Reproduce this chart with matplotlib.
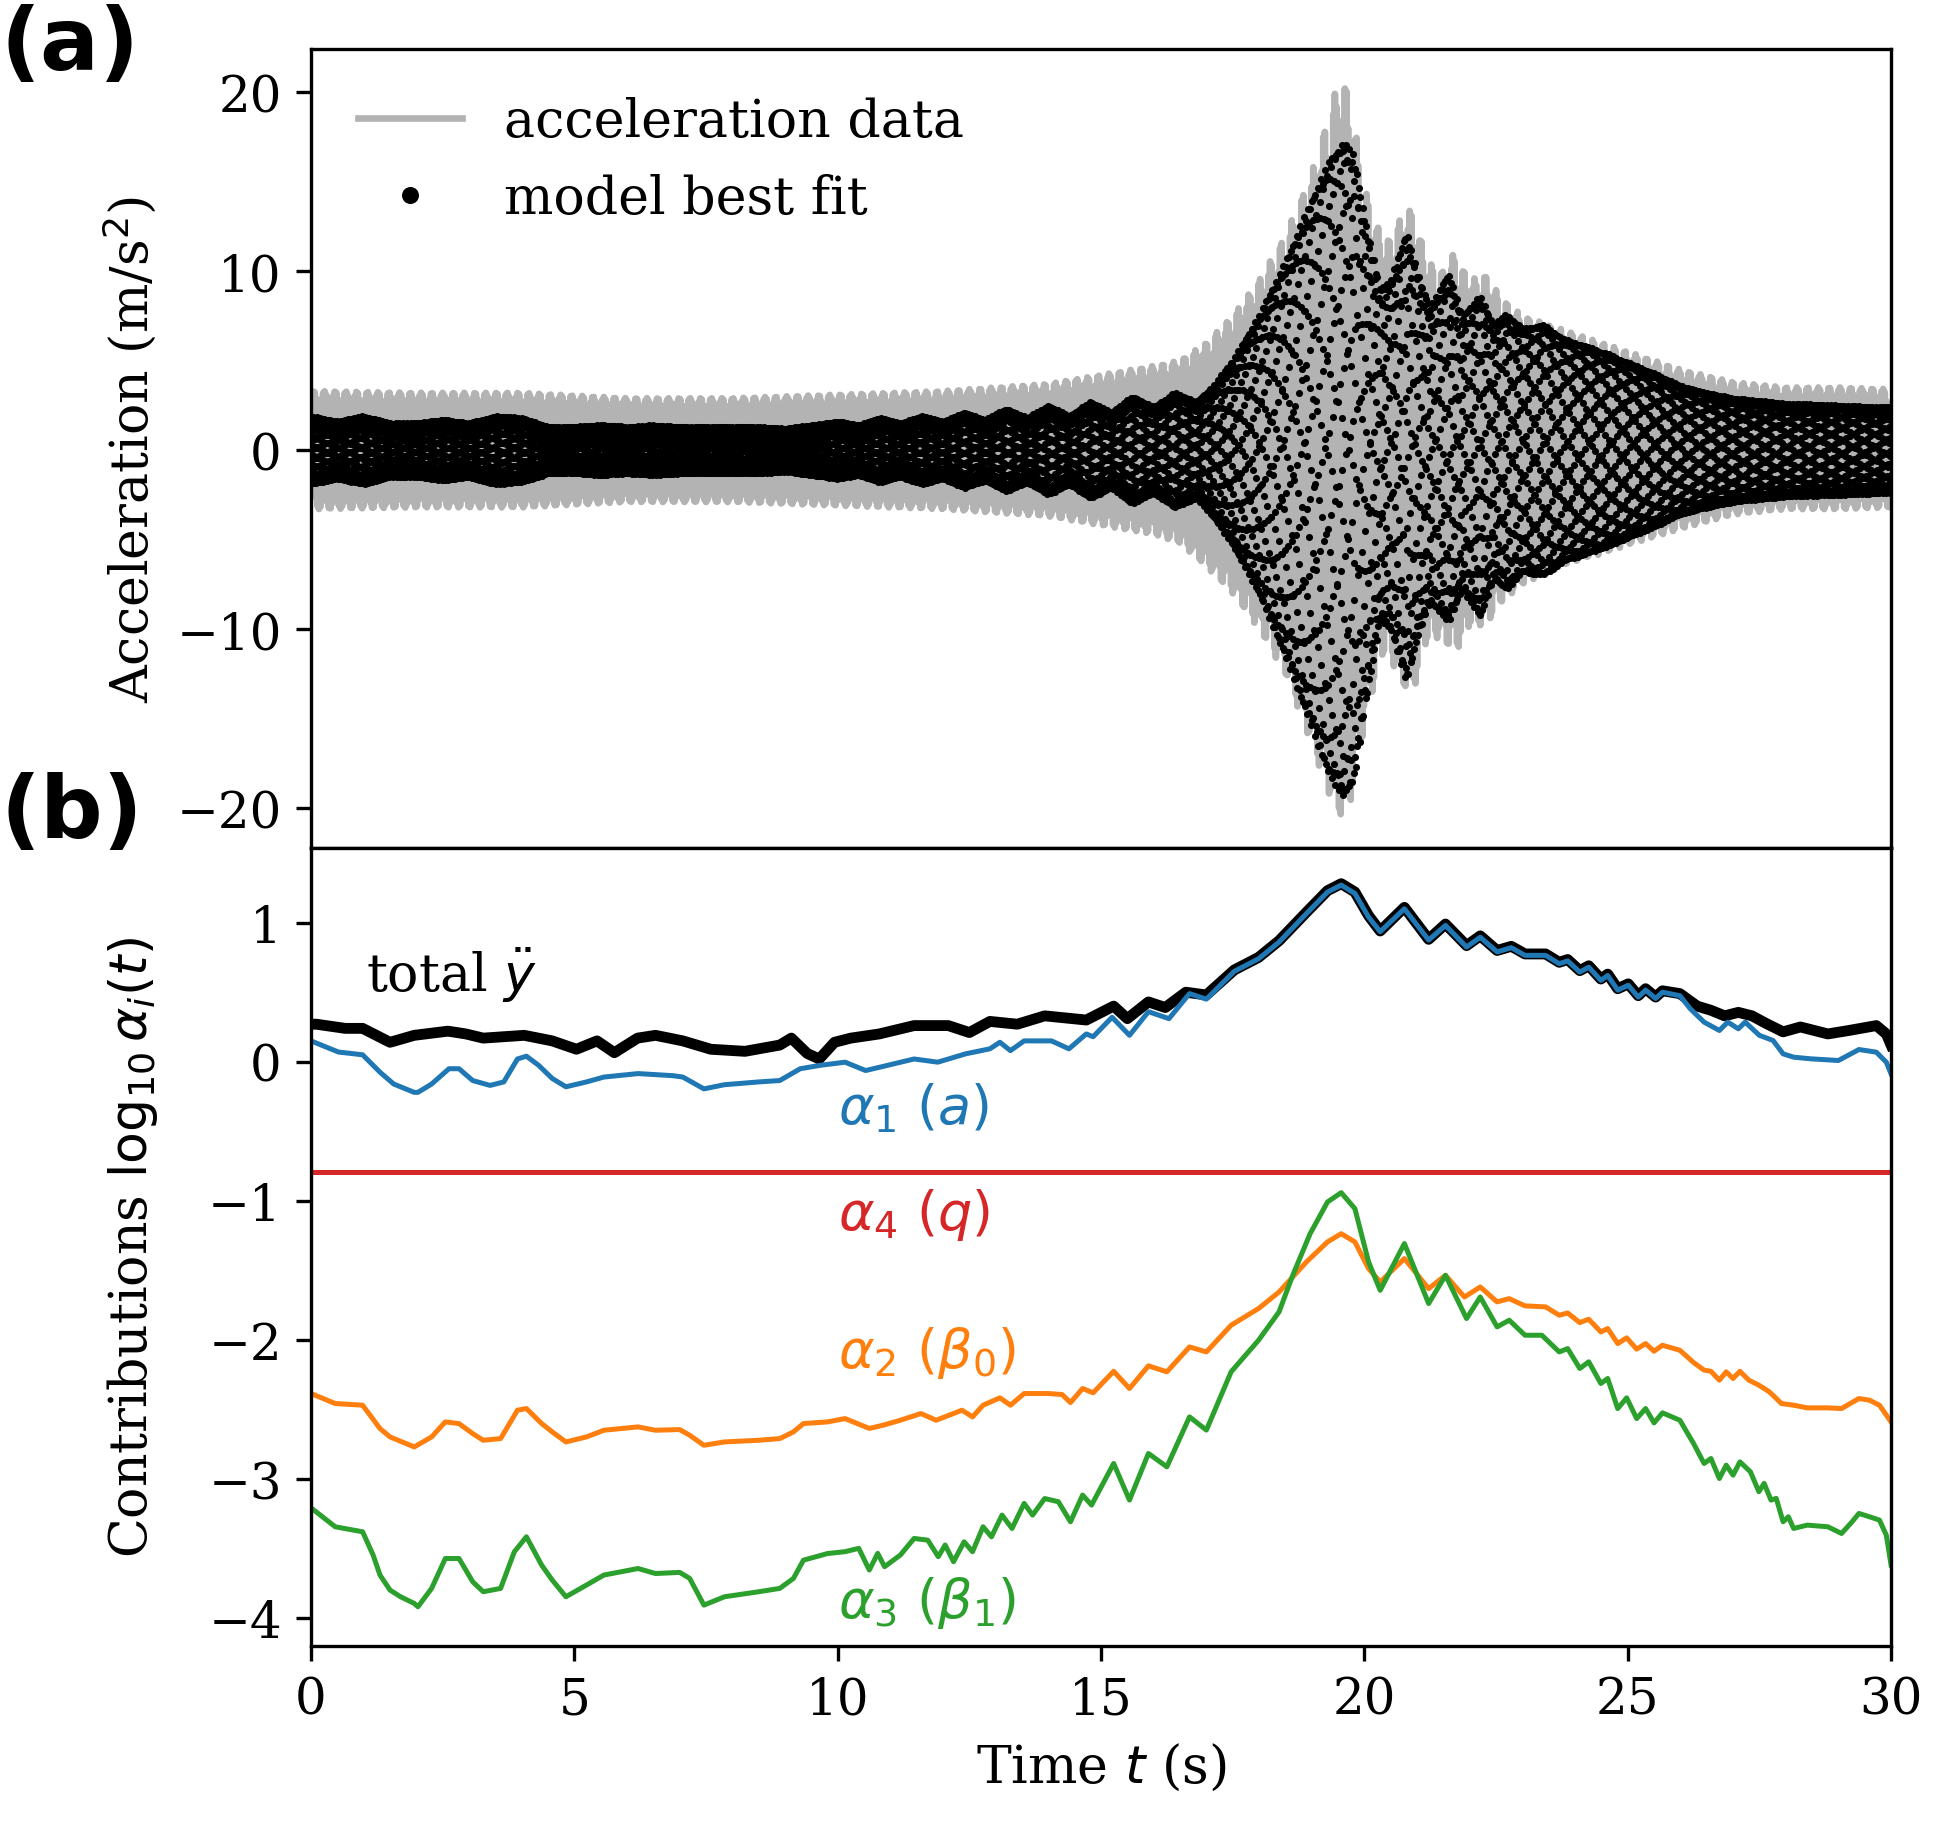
import numpy as np
import matplotlib
matplotlib.use("Agg")
import matplotlib.pyplot as plt

# ---- panel (a): envelopes (m/s^2) ----
env_t = [0, 2, 4, 6, 8, 10, 12, 14, 15, 16, 16.5, 17, 17.5, 18, 18.5, 19, 19.3, 19.5, 19.7,
         19.9, 20.1, 20.4, 20.7, 20.9, 21.2, 21.5, 21.7, 22.0, 22.3, 22.6, 23, 23.5, 24, 24.5,
         25, 26, 27, 28, 29, 30]
data_up = [3.3, 3.2, 3.2, 2.9, 2.9, 3.1, 3.3, 3.7, 4.2, 4.7, 5.0, 6.0, 7.5, 9.5, 12.0, 15.5,
           18.5, 20.5, 20.3, 16.5, 13.5, 11.5, 13.0, 13.5, 10.5, 10.0, 11.0, 9.5, 9.8, 8.5, 7.5,
           7.0, 6.5, 6.0, 5.5, 4.5, 3.8, 3.5, 3.5, 3.4]
data_low = [-3.3, -3.2, -3.2, -2.9, -2.9, -3.1, -3.3, -3.7, -4.2, -4.7, -5.2, -6.5, -8.0, -10.0,
            -12.5, -16.5, -19.0, -20.5, -20.2, -17.0, -14.0, -11.0, -13.0, -13.8, -10.5, -10.5,
            -11.5, -9.8, -9.8, -8.5, -7.5, -6.8, -6.2, -5.8, -5.3, -4.4, -3.6, -3.3, -3.3, -3.2]

mod_t = [0, 0.5, 1.0, 1.5, 2.0, 2.5, 3.0, 3.5, 4.0, 4.5, 5.0, 5.5, 6.0, 6.5, 7.0, 7.5, 8.0, 8.5,
         9.0, 9.5, 10.0, 10.4, 10.8, 11.2, 11.6, 12.0, 12.4, 12.8, 13.2, 13.6, 14.0, 14.4, 14.8,
         15.2, 15.6, 16.0, 16.4, 16.8, 17.1, 17.5, 18.0, 18.5, 19.0, 19.3, 19.6, 19.8, 20.0, 20.3,
         20.5, 20.8, 21.05, 21.25, 21.6, 21.85, 22.2, 22.45, 22.7, 23.0, 23.4, 23.8, 24.2, 24.6,
         25.0, 25.5, 26.0, 26.5, 27.0, 28.0, 29.0, 30.0]
mod_up = [1.9, 1.6, 1.9, 1.5, 1.5, 1.7, 1.5, 1.9, 1.8, 1.3, 1.3, 1.4, 1.3, 1.4, 1.3, 1.3, 1.3, 1.3,
          1.2, 1.4, 1.6, 1.4, 1.8, 1.5, 1.9, 1.6, 2.1, 1.7, 2.3, 1.8, 2.5, 1.9, 2.7, 2.1, 3.0, 2.4,
          3.2, 2.7, 3.5, 5.0, 7.5, 10.5, 14.0, 16.0, 17.2, 16.5, 13.0, 9.0, 9.5, 12.2, 9.5, 8.0,
          9.9, 7.5, 8.6, 7.0, 7.6, 6.8, 7.0, 6.2, 5.8, 5.4, 4.9, 4.3, 3.6, 3.2, 2.9, 2.6, 2.5, 2.4]
mod_low = [-1.9, -1.6, -1.9, -1.5, -1.5, -1.7, -1.5, -1.9, -1.8, -1.3, -1.3, -1.4, -1.3, -1.4,
           -1.3, -1.3, -1.3, -1.3, -1.2, -1.4, -1.6, -1.4, -1.8, -1.5, -1.9, -1.6, -2.1, -1.7, -2.3,
           -1.8, -2.5, -1.9, -2.7, -2.1, -3.0, -2.4, -3.2, -2.7, -3.6, -5.3, -8.0, -11.5, -15.5,
           -18.0, -19.4, -18.5, -14.5, -9.5, -10.0, -13.0, -10.0, -8.5, -9.6, -7.8, -9.3, -7.2,
           -7.8, -6.8, -7.0, -6.2, -5.8, -5.4, -4.9, -4.3, -3.6, -3.2, -2.9, -2.6, -2.5, -2.4]

fs_data = 100.0     # sampling rate of the record (Hz)
f_data = 31.7       # dominant frequency of the record
fs_model = 300.0    # rate at which the fit is evaluated
f_model = 114.4     # dominant frequency of the fit

# ---- panel (b): log10 contributions ----
t_total = [0.0, 0.1, 0.65, 0.98, 1.5, 1.96, 2.6, 2.94, 3.27, 4.05, 4.58, 5.04, 5.43, 5.76, 6.2,
           6.54, 7.06, 7.59, 8.24, 8.9, 9.12, 9.42, 9.65, 9.94, 10.25, 10.79, 11.45, 12.1, 12.5,
           12.89, 13.41, 13.93, 14.72, 15.24, 15.5, 15.9, 16.22, 16.61, 17.0, 17.53, 17.99, 18.38,
           18.9, 19.3, 19.56, 19.82, 20.08, 20.3, 20.76, 21.22, 21.54, 21.94, 22.2, 22.52, 22.79,
           23.05, 23.44, 23.7, 23.86, 24.09, 24.26, 24.49, 24.62, 24.81, 25.01, 25.2, 25.34,
           25.53, 25.66, 25.99, 26.32, 26.58, 26.84, 27.1, 27.36, 27.63, 27.95, 28.28, 28.8, 29.2,
           29.72, 29.91, 30.0]
total = [0.27, 0.27, 0.24, 0.24, 0.14, 0.19, 0.22, 0.2, 0.17, 0.19, 0.15, 0.09, 0.15, 0.065, 0.17,
         0.19, 0.15, 0.09, 0.075, 0.12, 0.17, 0.06, 0.02, 0.14, 0.17, 0.2, 0.26, 0.26, 0.21, 0.29,
         0.27, 0.33, 0.3, 0.4, 0.31, 0.43, 0.39, 0.5, 0.48, 0.66, 0.75, 0.87, 1.075, 1.23, 1.28,
         1.22, 1.05, 0.94, 1.11, 0.88, 0.99, 0.835, 0.905, 0.8, 0.83, 0.775, 0.775, 0.715, 0.735,
         0.655, 0.69, 0.595, 0.63, 0.525, 0.56, 0.475, 0.525, 0.465, 0.51, 0.49, 0.4, 0.37, 0.33,
         0.355, 0.33, 0.275, 0.215, 0.25, 0.2, 0.225, 0.26, 0.2, 0.12]

t_a1 = [0.0, 0.52, 0.98, 1.31, 1.57, 1.96, 2.03, 2.29, 2.62, 2.81, 3.07, 3.4, 3.66, 3.92, 4.09,
        4.32, 4.58, 4.84, 5.23, 5.56, 6.21, 6.87, 7.06, 7.46, 7.85, 8.5, 8.9, 9.29, 9.68, 10.14,
        10.53, 10.79, 11.45, 11.9, 12.43, 12.89, 13.08, 13.28, 13.54, 14.06, 14.39, 14.72, 14.85,
        15.21, 15.54, 15.9, 16.29, 16.68, 17.0, 17.53, 17.99, 18.38, 18.9, 19.3, 19.56, 19.82,
        20.08, 20.3, 20.76, 21.22, 21.54, 21.94, 22.2, 22.52, 22.79, 23.05, 23.44, 23.7, 23.86,
        24.09, 24.26, 24.49, 24.62, 24.81, 25.01, 25.2, 25.34, 25.53, 25.66, 25.99, 26.19, 26.45,
        26.74, 26.9, 27.1, 27.23, 27.5, 27.76, 27.95, 28.15, 28.48, 29.0, 29.39, 29.72, 29.91,
        30.0]
a1 = [0.15, 0.07, 0.05, -0.075, -0.16, -0.22, -0.22, -0.16, -0.05, -0.05, -0.135, -0.17, -0.145,
      0.02, 0.04, -0.025, -0.12, -0.18, -0.145, -0.11, -0.085, -0.1, -0.11, -0.195, -0.165, -0.145,
      -0.135, -0.05, -0.025, -0.003, -0.063, -0.04, 0.02, -0.003, 0.057, 0.093, 0.14, 0.08, 0.15,
      0.15, 0.093, 0.2, 0.18, 0.32, 0.19, 0.36, 0.31, 0.49, 0.45, 0.65, 0.74, 0.86, 1.065, 1.22,
      1.27, 1.21, 1.04, 0.935, 1.1, 0.875, 0.98, 0.825, 0.895, 0.79, 0.82, 0.765, 0.765, 0.705,
      0.725, 0.645, 0.68, 0.585, 0.62, 0.515, 0.55, 0.465, 0.515, 0.455, 0.5, 0.475, 0.38, 0.285,
      0.225, 0.285, 0.237, 0.285, 0.19, 0.153, 0.057, 0.033, 0.021, 0.009, 0.088, 0.069, -0.003,
      -0.087]

t_a2 = [0.0, 0.46, 0.98, 1.31, 1.5, 1.96, 2.29, 2.55, 2.81, 3.07, 3.27, 3.6, 3.92, 4.09, 4.38,
        4.58, 4.84, 5.23, 5.56, 6.21, 6.54, 7.0, 7.19, 7.46, 7.85, 8.5, 8.9, 9.16, 9.35, 9.81,
        10.14, 10.6, 10.86, 11.19, 11.58, 11.87, 12.36, 12.56, 12.76, 13.08, 13.28, 13.54, 14.0,
        14.26, 14.42, 14.65, 14.85, 15.24, 15.54, 15.9, 16.25, 16.68, 17.0, 17.47, 17.99, 18.38,
        18.9, 19.3, 19.56, 19.82, 20.08, 20.3, 20.76, 21.22, 21.54, 21.9, 22.2, 22.52, 22.75,
        23.05, 23.44, 23.7, 23.86, 24.09, 24.26, 24.49, 24.62, 24.81, 24.98, 25.17, 25.34, 25.5,
        25.66, 25.99, 26.25, 26.45, 26.58, 26.74, 26.87, 27.0, 27.13, 27.3, 27.49, 27.69, 27.92,
        28.15, 28.41, 28.8, 29.06, 29.39, 29.59, 29.78, 30.0]
a2 = [-2.385, -2.457, -2.469, -2.637, -2.697, -2.769, -2.697, -2.589, -2.601, -2.673, -2.721,
      -2.709, -2.505, -2.493, -2.601, -2.661, -2.733, -2.697, -2.649, -2.625, -2.649, -2.644,
      -2.685, -2.757, -2.733, -2.721, -2.709, -2.661, -2.601, -2.589, -2.565, -2.636, -2.613,
      -2.577, -2.529, -2.577, -2.505, -2.553, -2.469, -2.416, -2.469, -2.385, -2.385, -2.392,
      -2.45, -2.349, -2.38, -2.225, -2.349, -2.186, -2.229, -2.05, -2.086, -1.894, -1.774,
      -1.655, -1.439, -1.295, -1.236, -1.295, -1.487, -1.583, -1.415, -1.631, -1.535, -1.691,
      -1.619, -1.726, -1.703, -1.755, -1.762, -1.822, -1.806, -1.875, -1.851, -1.942, -1.918,
      -2.026, -1.985, -2.066, -2.026, -2.081, -2.038, -2.074, -2.162, -2.217, -2.225, -2.289,
      -2.229, -2.277, -2.225, -2.289, -2.325, -2.373, -2.457, -2.469, -2.488, -2.488, -2.493,
      -2.421, -2.433, -2.469, -2.589]

t_a3 = [0.0, 0.46, 0.98, 1.18, 1.31, 1.5, 1.7, 1.96, 2.03, 2.29, 2.55, 2.81, 3.07, 3.27, 3.6,
        3.86, 4.09, 4.38, 4.58, 4.84, 5.23, 5.56, 6.21, 6.54, 7.0, 7.19, 7.46, 7.85, 8.5, 8.9,
        9.16, 9.35, 9.81, 10.14, 10.4, 10.6, 10.76, 10.89, 11.19, 11.45, 11.71, 11.91, 12.04,
        12.2, 12.4, 12.56, 12.76, 12.92, 13.12, 13.31, 13.54, 13.7, 13.93, 14.19, 14.42, 14.65,
        14.82, 15.24, 15.54, 15.9, 16.25, 16.68, 17.0, 17.47, 17.99, 18.38, 18.64, 18.97, 19.3,
        19.56, 19.82, 20.08, 20.3, 20.76, 21.22, 21.54, 21.94, 22.2, 22.52, 22.75, 23.05, 23.37,
        23.7, 23.86, 24.09, 24.26, 24.49, 24.62, 24.81, 24.98, 25.17, 25.34, 25.5, 25.66, 25.99,
        26.25, 26.45, 26.58, 26.74, 26.87, 27.0, 27.13, 27.33, 27.49, 27.59, 27.72, 27.82, 27.95,
        28.05, 28.15, 28.41, 28.8, 29.06, 29.26, 29.39, 29.59, 29.78, 29.91, 30.0]
a3 = [-3.207, -3.343, -3.379, -3.547, -3.69, -3.798, -3.846, -3.894, -3.918, -3.786, -3.571,
      -3.571, -3.738, -3.81, -3.786, -3.523, -3.415, -3.619, -3.726, -3.846, -3.762, -3.69,
      -3.643, -3.679, -3.671, -3.714, -3.906, -3.846, -3.81, -3.786, -3.714, -3.583, -3.535,
      -3.522, -3.498, -3.654, -3.534, -3.63, -3.546, -3.427, -3.439, -3.558, -3.474, -3.594,
      -3.451, -3.522, -3.343, -3.415, -3.259, -3.355, -3.175, -3.259, -3.14, -3.163, -3.307,
      -3.115, -3.187, -2.888, -3.151, -2.816, -2.912, -2.553, -2.648, -2.229, -2.002, -1.798,
      -1.535, -1.236, -1.008, -0.941, -1.056, -1.439, -1.643, -1.307, -1.738, -1.535, -1.846,
      -1.691, -1.906, -1.858, -1.966, -1.966, -2.086, -2.062, -2.205, -2.157, -2.313, -2.277,
      -2.493, -2.416, -2.565, -2.493, -2.596, -2.524, -2.577, -2.744, -2.888, -2.852, -2.996,
      -2.9, -2.972, -2.876, -2.948, -3.091, -3.031, -3.151, -3.139, -3.307, -3.271, -3.355,
      -3.331, -3.343, -3.391, -3.307, -3.247, -3.271, -3.295, -3.403, -3.618]

t_a4 = [0.0, 30.0]
a4 = [-0.79, -0.79]

plt.rcParams['font.family'] = 'serif'
plt.rcParams['font.serif'] = ['DejaVu Serif']
plt.rcParams['font.size'] = 12

# sampled record and fit, shaped by the envelopes above
td = np.arange(0, 30.0 + 1e-9, 1.0 / fs_data)
d_hi, d_lo = np.interp(td, env_t, data_up), np.interp(td, env_t, data_low)
acc_data = 0.5 * (d_hi + d_lo) + 0.5 * (d_hi - d_lo) * np.sin(2 * np.pi * f_data * td)

tm = np.arange(0, 30.0 + 1e-9, 1.0 / fs_model)
m_hi, m_lo = np.interp(tm, mod_t, mod_up), np.interp(tm, mod_t, mod_low)
acc_model = 0.5 * (m_hi + m_lo) + 0.5 * (m_hi - m_lo) * np.sin(2 * np.pi * f_model * tm + 0.3)

fig, (ax1, ax2) = plt.subplots(2, 1, sharex=True, figsize=(6.52, 6.103), dpi=300)
fig.subplots_adjust(left=0.159, right=0.9668, top=0.9727, bottom=0.1005, hspace=0)

ax1.plot(td, acc_data, color='#b3b3b3', lw=1.6, label='acceleration data', zorder=1)
ax1.plot(tm, acc_model, 'o', color='k', ms=1.7, mew=0, label='model best fit', zorder=2)
ax1.legend(loc='upper left', frameon=False, markerscale=2.4, handlelength=2.0, fontsize=12.5)
ax1.set_ylim(-22.2, 22.4)
ax1.set_yticks([-20, -10, 0, 10, 20])
ax1.set_ylabel('Acceleration (m/s$^2$)', fontsize=12.5)
ax1.tick_params(axis='x', bottom=False)

ax2.plot(t_total, total, color='k', lw=2.6)
ax2.plot(t_a1, a1, color='tab:blue', lw=1.2)
ax2.plot(t_a4, a4, color='tab:red', lw=1.2)
ax2.plot(t_a2, a2, color='tab:orange', lw=1.2)
ax2.plot(t_a3, a3, color='tab:green', lw=1.2)

ax2.text(1.05, 0.505, r'total $\ddot{y}$', color='k', fontsize=12.5, va='baseline')
ax2.text(10.0, -0.445, r'$\alpha_1$ $(a)$', color='tab:blue', fontsize=13, va='baseline')
ax2.text(10.0, -1.2, r'$\alpha_4$ $(q)$', color='tab:red', fontsize=13, va='baseline')
ax2.text(10.0, -2.193, r'$\alpha_2$ $(\beta_0)$', color='tab:orange', fontsize=13, va='baseline')
ax2.text(10.0, -3.99, r'$\alpha_3$ $(\beta_1)$', color='tab:green', fontsize=13, va='baseline')

ax2.set_xlim(0, 30)
ax2.set_ylim(-4.2, 1.54)
ax2.set_xticks([0, 5, 10, 15, 20, 25, 30])
ax2.set_yticks([-4, -3, -2, -1, 0, 1])
ax2.set_xlabel('Time $t$ (s)', fontsize=12.5)
ax2.set_ylabel(r'Contributions $\log_{10}\alpha_i(t)$', fontsize=12.5)

fig.align_ylabels([ax1, ax2])

fig.text(0.0, 0.9618, '(a)', fontsize=21, fontweight='bold', family='DejaVu Sans', va='baseline')
fig.text(0.0, 0.5423, '(b)', fontsize=21, fontweight='bold', family='DejaVu Sans', va='baseline')

fig.savefig('out.png', dpi=300)
